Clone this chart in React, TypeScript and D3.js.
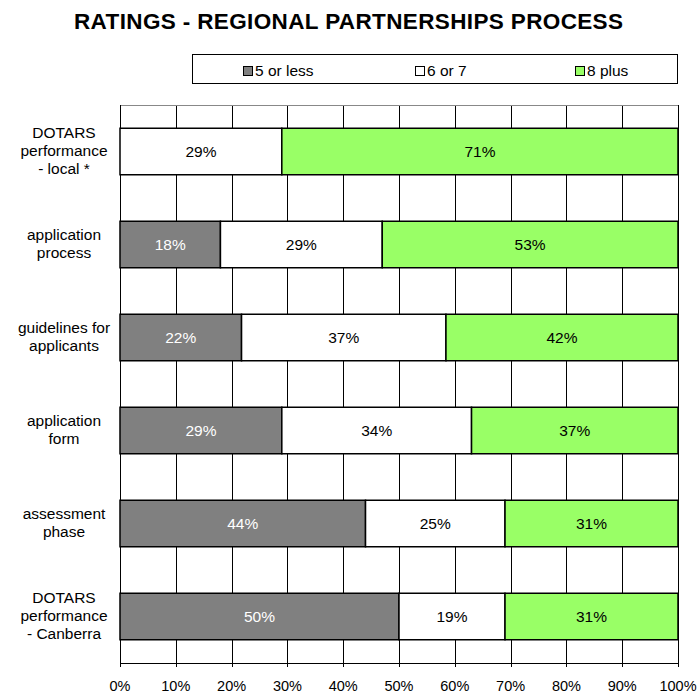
import React from "react";
import { scaleLinear, scaleBand, stack, stackOffsetExpand } from "d3";

const categories = [
  "DOTARS|performance|- local *",
  "application|process",
  "guidelines for|applicants",
  "application|form",
  "assessment|phase",
  "DOTARS|performance|- Canberra",
];
const seriesKeys = ["5 or less", "6 or 7", "8 plus"];
const lowScores = [0, 18, 22, 29, 44, 50];
const midScores = [29, 29, 37, 34, 25, 19];
const highScores = [71, 53, 42, 37, 31, 31];
const tickValues = [0, 0.1, 0.2, 0.3, 0.4, 0.5, 0.6, 0.7, 0.8, 0.9, 1];

const colors: Record<string, string> = {
  "5 or less": "#808080",
  "6 or 7": "#ffffff",
  "8 plus": "#99ff66",
};
const textColors: Record<string, string> = {
  "5 or less": "#ffffff",
  "6 or 7": "#000000",
  "8 plus": "#000000",
};

const rows = categories.map((c, i) => ({
  key: c,
  "5 or less": lowScores[i],
  "6 or 7": midScores[i],
  "8 plus": highScores[i],
}));

export default function App() {
  const width = 699;
  const height = 693;
  const left = 120;
  const right = 678;
  const top = 105;
  const bottom = 663;

  const x = scaleLinear().domain([0, 1]).range([left, right]);
  const y = scaleBand<string>()
    .domain(categories)
    .range([top, bottom])
    .paddingInner(0.5)
    .paddingOuter(0.25);

  const layers = stack<any>().keys(seriesKeys).offset(stackOffsetExpand)(rows);
  const font = "'Liberation Sans', Arial, sans-serif";

  return (
    <svg width={width} height={height} style={{ position: "absolute", left: 0, top: 0 }} fontFamily={font}>
      <rect width={width} height={height} fill="#fff" />
      <text x={74} y={29} fontSize={22.5} fontWeight="bold" textLength={549} lengthAdjust="spacing">
        RATINGS - REGIONAL PARTNERSHIPS PROCESS
      </text>

      {/* legend */}
      <rect x={192.5} y={54.5} width={485} height={29} fill="#fff" stroke="#000" />
      {seriesKeys.map((k, i) => {
        const lx = [243, 415, 575][i];
        return (
          <g key={k}>
            <rect x={lx + 0.5} y={66.5} width={9} height={9} fill={colors[k]} stroke="#000" />
            <text x={lx + 12} y={76} fontSize={15.5}>{k}</text>
          </g>
        );
      })}

      {/* grid */}
      {tickValues.map((t) => (
        <line key={t} x1={Math.round(x(t)) + 0.5} x2={Math.round(x(t)) + 0.5} y1={top} y2={bottom + 4} stroke="#000" strokeWidth={1} />
      ))}
      <line x1={left} x2={right} y1={top + 0.5} y2={top + 0.5} stroke="#888" />
      <line x1={left} x2={right + 1} y1={bottom + 0.5} y2={bottom + 0.5} stroke="#000" />
      <line x1={left + 0.5} x2={left + 0.5} y1={top} y2={bottom} stroke="#000" />

      {/* bars */}
      {layers.map((layer) =>
        layer.map((d, i) => {
          const x0 = x(d[0]);
          const x1 = x(d[1]);
          const yy = y(categories[i])!;
          const h = y.bandwidth();
          const val = (d.data as any)[layer.key];
          return (
            <g key={layer.key + i}>
              <rect x={x0} y={yy} width={x1 - x0} height={h} fill={colors[layer.key]} stroke="#000" strokeWidth={1.5} />
              {val > 0 && (
                <text x={(x0 + x1) / 2} y={yy + h / 2 + 5.5} textAnchor="middle" fontSize={15.5} fill={textColors[layer.key]}>
                  {val}%
                </text>
              )}
            </g>
          );
        })
      )}

      {/* category labels */}
      {categories.map((c) => {
        const lines = c.split("|");
        const cy = y(c)! + y.bandwidth() / 2;
        const lh = 18;
        const startY = cy - ((lines.length - 1) * lh) / 2 + 4.5;
        return (
          <text key={c} x={64} textAnchor="middle" fontSize={15.5}>
            {lines.map((l, j) => (
              <tspan key={j} x={64} y={startY + j * lh}>{l}</tspan>
            ))}
          </text>
        );
      })}

      {/* x ticks */}
      {tickValues.map((t) => (
        <text key={t} x={x(t)} y={691} textAnchor="middle" fontSize={14.5}>
          {Math.round(t * 100)}%
        </text>
      ))}
    </svg>
  );
}
